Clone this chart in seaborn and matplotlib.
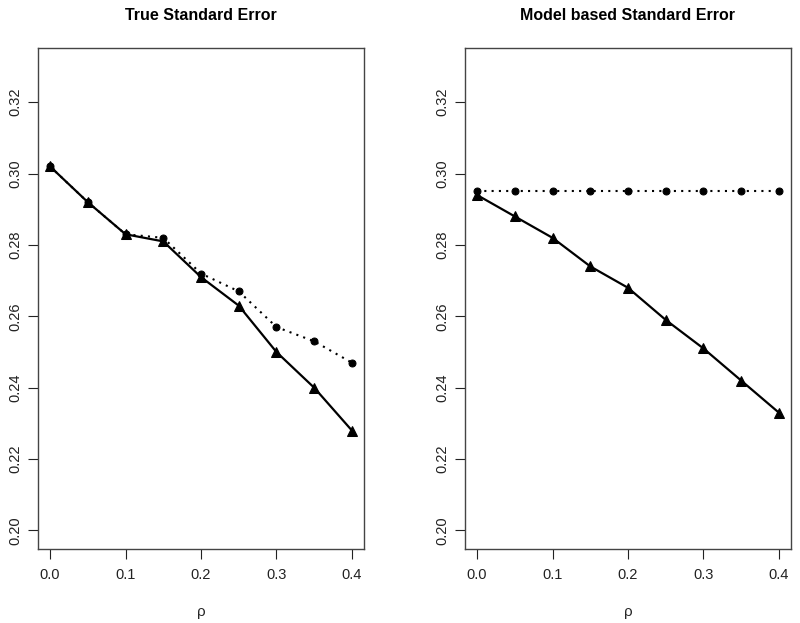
import numpy as np
import pandas as pd
import matplotlib
import matplotlib.pyplot as plt
import seaborn as sns
matplotlib.use("Agg")

# rho grid and standard error estimates
rho = [0.0, 0.05, 0.1, 0.15, 0.2, 0.25, 0.3, 0.35, 0.4]
true_se_solid = [0.302, 0.292, 0.283, 0.281, 0.271, 0.263, 0.250, 0.240, 0.228]
true_se_dotted = [0.302, 0.292, 0.283, 0.282, 0.272, 0.267, 0.257, 0.253, 0.247]
model_se_solid = [0.294, 0.288, 0.282, 0.274, 0.268, 0.259, 0.251, 0.242, 0.233]
model_se_dotted = [0.295, 0.295, 0.295, 0.295, 0.295, 0.295, 0.295, 0.295, 0.295]

titles = ["True Standard Error", "Model based Standard Error"]
x_ticks = [0.0, 0.1, 0.2, 0.3, 0.4]
y_ticks = [0.20, 0.22, 0.24, 0.26, 0.28, 0.30, 0.32]

sns.set_theme(style="white")
plt.rcParams["font.family"] = ["Liberation Sans", "DejaVu Sans"]
plt.rcParams["text.color"] = "black"
plt.rcParams["xtick.color"] = "#222222"
plt.rcParams["ytick.color"] = "#222222"

fig = plt.figure(figsize=(8, 6.23), dpi=100)
axes = [
    fig.add_axes([38 / 800, 74 / 623, 326 / 800, 501 / 623]),
    fig.add_axes([465 / 800, 74 / 623, 326 / 800, 501 / 623]),
]

panels = [(true_se_solid, true_se_dotted), (model_se_solid, model_se_dotted)]

for ax, title, (solid, dotted) in zip(axes, titles, panels):
    df = pd.DataFrame({"rho": rho, "solid": solid, "dotted": dotted})
    sns.lineplot(data=df, x="rho", y="dotted", ax=ax, color="black",
                 linestyle=(0, (1, 2.5)), linewidth=1.5, marker="o",
                 markersize=5, markeredgecolor="black")
    sns.lineplot(data=df, x="rho", y="solid", ax=ax, color="black",
                 linestyle="-", linewidth=1.6, marker="^",
                 markersize=6.5, markeredgecolor="black")

    ax.set_xlim(-0.016, 0.416)
    ax.set_ylim(0.1948, 0.3352)
    ax.set_xticks(x_ticks)
    ax.set_xticklabels([f"{t:.1f}" for t in x_ticks], fontsize=10.5)
    ax.set_yticks(y_ticks)
    ax.set_yticklabels([f"{t:.2f}" for t in y_ticks], fontsize=10.5,
                       rotation=90, va="center")
    ax.tick_params(axis="x", direction="out", length=7, width=0.8,
                   bottom=True, pad=7)
    ax.tick_params(axis="y", direction="out", length=7, width=0.8,
                   left=True, pad=4)
    ax.set_xlabel("ρ", fontsize=11, labelpad=16)
    ax.set_ylabel("")
    ax.set_title(title, fontsize=11.5, fontweight="bold", pad=20)
    for spine in ax.spines.values():
        spine.set_visible(True)
        spine.set_color("#444444")
        spine.set_linewidth(1.0)

fig.savefig("out.png", dpi=100)
